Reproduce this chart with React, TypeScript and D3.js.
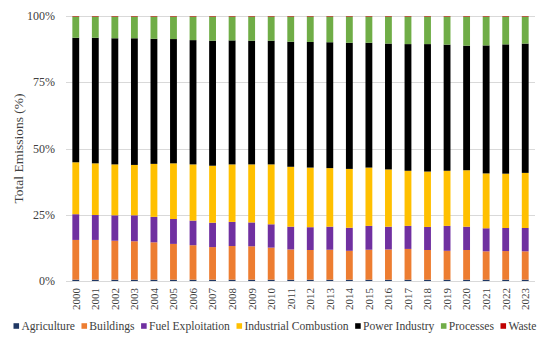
import React, { useEffect, useRef } from "react";
import * as d3 from "d3";

const years = [
  "2000", "2001", "2002", "2003", "2004", "2005", "2006", "2007",
  "2008", "2009", "2010", "2011", "2012", "2013", "2014", "2015",
  "2016", "2017", "2018", "2019", "2020", "2021", "2022", "2023",
];

// shares of total emissions (%)
const agriculture = [
  0.5, 0.5, 0.5, 0.5, 0.5, 0.5, 0.5, 0.5, 0.5, 0.5, 0.5, 0.5,
  0.5, 0.5, 0.5, 0.5, 0.5, 0.5, 0.5, 0.5, 0.5, 0.5, 0.5, 0.5,
];
const buildings = [
  15.0, 15.0, 14.7, 14.5, 14.1, 13.5, 13.0, 12.3, 12.7, 12.6, 12.1, 11.4,
  11.2, 11.3, 10.9, 11.3, 11.4, 11.6, 11.2, 10.9, 11.2, 10.7, 10.8, 10.7,
];
const fuelExploitation = [
  9.7, 9.4, 9.6, 9.8, 9.6, 9.4, 9.3, 9.2, 9.1, 9.0, 8.8, 8.6,
  8.6, 8.7, 8.7, 9.0, 8.6, 8.7, 8.7, 9.4, 8.8, 8.7, 8.7, 8.8,
];
const industrialCombustion = [
  19.6, 19.5, 19.2, 19.0, 20.0, 21.0, 21.2, 21.5, 21.7, 21.9, 22.6, 22.6,
  22.5, 22.1, 22.2, 22.0, 21.6, 20.8, 20.9, 20.8, 21.3, 20.7, 20.5, 20.8,
];
const powerIndustry = [
  47.0, 47.4, 47.6, 47.8, 47.2, 46.9, 46.9, 47.2, 46.8, 46.7, 46.7, 47.2,
  47.4, 47.5, 47.6, 47.1, 47.5, 47.8, 48.1, 47.6, 47.0, 48.3, 48.8, 48.8,
];
const processes = [
  8.0, 8.0, 8.2, 8.2, 8.4, 8.5, 8.9, 9.1, 9.0, 9.1, 9.1, 9.5,
  9.6, 9.7, 9.9, 9.9, 10.2, 10.4, 10.4, 10.6, 11.0, 10.9, 10.5, 10.2,
];
const waste = [
  0.2, 0.2, 0.2, 0.2, 0.2, 0.2, 0.2, 0.2, 0.2, 0.2, 0.2, 0.2,
  0.2, 0.2, 0.2, 0.2, 0.2, 0.2, 0.2, 0.2, 0.2, 0.2, 0.2, 0.2,
];

const seriesNames = [
  "Agriculture", "Buildings", "Fuel Exploitation", "Industrial Combustion",
  "Power Industry", "Processes", "Waste",
];
const seriesValues = [
  agriculture, buildings, fuelExploitation, industrialCombustion,
  powerIndustry, processes, waste,
];
const colors = ["#203864", "#ED7D31", "#7030A0", "#FFC000", "#000000", "#70AD47", "#C00000"];
const yTicks = [0, 0.25, 0.5, 0.75, 1];

const FONT = "Liberation Serif, Tinos, DejaVu Serif, serif";

export default function App() {
  const ref = useRef<SVGSVGElement>(null);

  useEffect(() => {
    const W = 550;
    const H = 345;
    const margin = { top: 16, right: 15, bottom: 64, left: 66 };
    const width = W - margin.left - margin.right;
    const height = H - margin.top - margin.bottom;

    const svg = d3.select(ref.current);
    svg.selectAll("*").remove();

    svg
      .append("rect")
      .attr("x", 4.5)
      .attr("y", 3.5)
      .attr("width", W - 9)
      .attr("height", H - 7)
      .attr("fill", "#fff")
      .attr("stroke", "#D9D9D9");

    const table = years.map((y, i) => {
      const row: any = { year: y };
      seriesNames.forEach((n, k) => (row[n] = seriesValues[k][i]));
      return row;
    });
    const stacked = d3.stack().keys(seriesNames).offset(d3.stackOffsetExpand)(table);

    const x = d3
      .scaleBand()
      .domain(years)
      .range([0, width])
      .paddingInner(0.65)
      .paddingOuter(0.325);
    const y = d3.scaleLinear().domain([0, 1]).range([height, 0]);

    const g = svg.append("g").attr("transform", `translate(${margin.left},${margin.top})`);

    g.selectAll(".grid")
      .data(yTicks)
      .join("line")
      .attr("x1", 0)
      .attr("x2", width)
      .attr("y1", (d) => Math.round(y(d)) + 0.5)
      .attr("y2", (d) => Math.round(y(d)) + 0.5)
      .attr("stroke", "#D9D9D9");

    g.selectAll(".ytick")
      .data(yTicks)
      .join("text")
      .attr("x", -11)
      .attr("y", (d) => y(d))
      .attr("dy", "0.35em")
      .attr("text-anchor", "end")
      .style("font-family", FONT)
      .attr("font-size", 12)
      .attr("fill", "#404040")
      .text((d) => d3.format(".0%")(d));

    g.selectAll(".layer")
      .data(stacked)
      .join("g")
      .attr("fill", (_, i) => colors[i])
      .selectAll("rect")
      .data((d) => d)
      .join("rect")
      .attr("x", (d: any) => x(d.data.year)!)
      .attr("y", (d) => y(d[1]))
      .attr("width", x.bandwidth())
      .attr("height", (d) => Math.max(0, y(d[0]) - y(d[1])));

    g.selectAll(".xtick")
      .data(years)
      .join("text")
      .attr(
        "transform",
        (d) => `translate(${x(d)! + x.bandwidth() / 2},${height + 7}) rotate(-90)`
      )
      .attr("dy", "0.35em")
      .attr("text-anchor", "end")
      .style("font-family", FONT)
      .attr("font-size", 11)
      .attr("fill", "#404040")
      .text((d) => d);

    svg
      .append("text")
      .attr("transform", `translate(18,${margin.top + height / 2}) rotate(-90)`)
      .attr("dy", "0.35em")
      .attr("text-anchor", "middle")
      .style("font-family", FONT)
      .attr("font-size", 13.5)
      .attr("fill", "#404040")
      .text("Total Emissions (%)");

    // legend, laid out left to right and centred
    const legend = svg.append("g");
    const items = legend
      .selectAll("g")
      .data(seriesNames)
      .join("g");
    items
      .append("rect")
      .attr("width", 6)
      .attr("height", 6)
      .attr("y", -3)
      .attr("fill", (_, i) => colors[i]);
    items
      .append("text")
      .attr("x", 8.5)
      .attr("dy", "0.35em")
      .style("font-family", FONT)
      .attr("font-size", 12.5)
      .attr("fill", "#404040")
      .text((d) => d);

    const gap = 7;
    let cx = 0;
    items.each(function () {
      const t = d3.select(this).select("text").node() as SVGTextElement;
      d3.select(this).attr("transform", `translate(${cx},0)`);
      cx += 8.5 + t.getComputedTextLength() + gap;
    });
    const total = cx - gap;
    const k = Math.min(1, 523 / total);
    legend.attr("transform", `translate(${275 - (total * k) / 2},326) scale(${k})`);
  }, []);

  return <svg ref={ref} width={550} height={345} style={{ display: "block", margin: "-8px" }} />;
}
